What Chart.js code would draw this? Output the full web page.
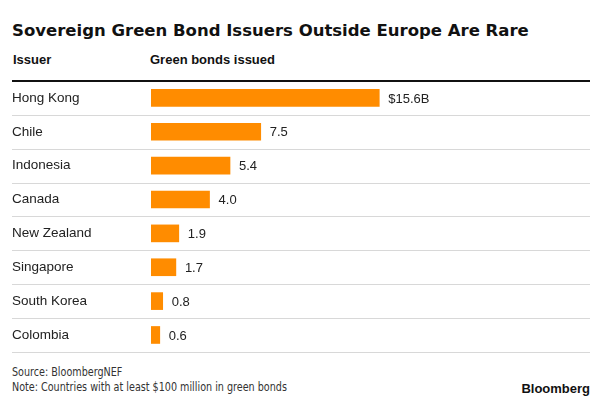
<!DOCTYPE html>
<html>
<head>
<meta charset="utf-8">
<script src="https://cdn.jsdelivr.net/npm/chart.js@4/dist/chart.umd.min.js"></script>
<style>
  body { margin: 0; background: #fff; width: 600px; height: 405px; position: relative; overflow: hidden; }
  #title { position: absolute; left: 12px; top: 21px; font: bold 16.5px "DejaVu Sans", sans-serif; color: #111; white-space: nowrap; }
  .head { position: absolute; top: 52px; font: bold 13px "Liberation Sans", Arial, sans-serif; color: #111; }
  #rule { position: absolute; left: 12px; top: 80px; width: 578px; height: 2px; background: #111; }
  #wrap { position: absolute; left: 0; top: 0; width: 600px; height: 360px; }
  #foot { position: absolute; left: 12px; top: 365px; font: 12px "DejaVu Sans Condensed", sans-serif; color: #333; line-height: 15px; white-space: nowrap; transform: scaleX(0.89); transform-origin: left top; }
  #brand { position: absolute; right: 10px; top: 381px; font: bold 13px "Liberation Sans", Arial, sans-serif; color: #111; }
</style>
</head>
<body>
<div id="title">Sovereign Green Bond Issuers Outside Europe Are Rare</div>
<div class="head" style="left:13px">Issuer</div>
<div class="head" style="left:150px">Green bonds issued</div>
<div id="wrap"><canvas id="chart" width="600" height="360"></canvas></div>
<div id="rule"></div>
<div id="foot">Source: BloombergNEF<br>Note: Countries with at least $100 million in green bonds</div>
<div id="brand">Bloomberg</div>
<script>
const issuers = ["Hong Kong", "Chile", "Indonesia", "Canada", "New Zealand", "Singapore", "South Korea", "Colombia"];
const issued = [15.6, 7.5, 5.4, 4.0, 1.9, 1.7, 0.8, 0.6];
const valueLabels = ["$15.6B", "7.5", "5.4", "4.0", "1.9", "1.7", "0.8", "0.6"];

// row separators across full width
const rowLines = {
  id: "rowLines",
  beforeDatasetsDraw(chart) {
    const ctx = chart.ctx;
    const y = chart.scales.y;
    const half = (y.getPixelForValue(1) - y.getPixelForValue(0)) / 2;
    ctx.save();
    ctx.strokeStyle = "#d8d8d8";
    ctx.lineWidth = 1;
    for (let i = 0; i < issuers.length; i++) {
      const py = Math.round(y.getPixelForValue(i) + half) + 0.5;
      ctx.beginPath();
      ctx.moveTo(12, py);
      ctx.lineTo(590, py);
      ctx.stroke();
    }
    ctx.restore();
  }
};

const barLabels = {
  id: "barLabels",
  afterDatasetsDraw(chart) {
    const ctx = chart.ctx;
    ctx.save();
    ctx.font = "13px 'Liberation Sans', Arial, sans-serif";
    ctx.fillStyle = "#222";
    ctx.textBaseline = "middle";
    chart.getDatasetMeta(0).data.forEach((bar, i) => {
      ctx.fillText(valueLabels[i], bar.x + 9, bar.y + 1);
    });
    ctx.restore();
  }
};

new Chart("chart", {
  type: "bar",
  data: {
    labels: issuers,
    datasets: [{
      data: issued,
      backgroundColor: "#ff8c00",
      barThickness: 17,
      borderWidth: 0
    }]
  },
  options: {
    indexAxis: "y",
    responsive: false,
    animation: false,
    layout: { padding: { left: 12, right: 10, top: 81, bottom: 5 } },
    plugins: { legend: { display: false }, tooltip: { enabled: false } },
    scales: {
      x: { display: false, min: 0, max: 30 },
      y: {
        grid: { display: false },
        border: { display: false },
        ticks: {
          crossAlign: "far",
          padding: 0,
          color: "#222",
          font: { family: "'Liberation Sans', Arial, sans-serif", size: 13.5 }
        },
        afterFit(scale) { scale.width = 139; }
      }
    }
  },
  plugins: [rowLines, barLabels]
});
</script>
</body>
</html>
